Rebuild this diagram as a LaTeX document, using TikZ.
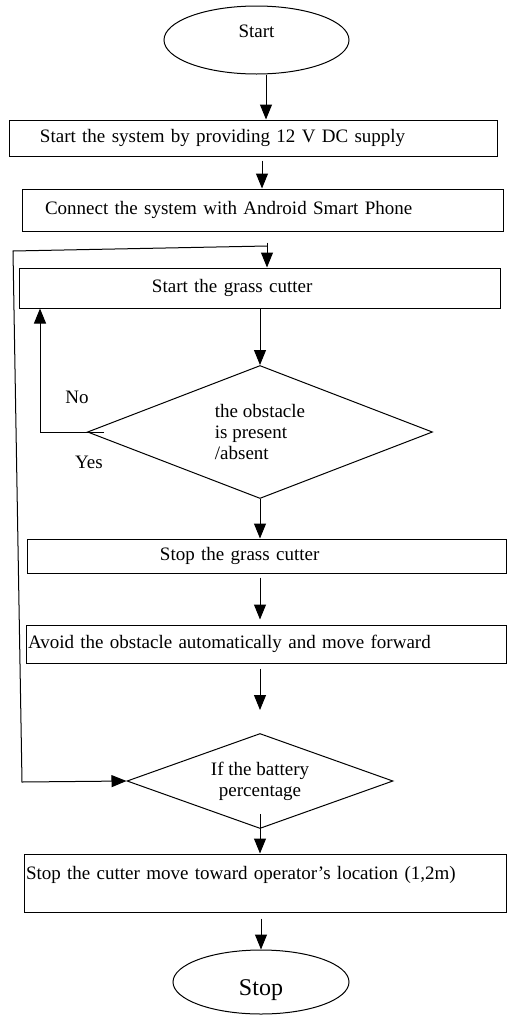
\documentclass[tikz,border=0pt]{standalone}
\usepackage{fontspec}
\setmainfont{Liberation Serif}
\usetikzlibrary{arrows.meta,shapes.geometric}
\usetikzlibrary{positioning}
\begin{document}
\begin{tikzpicture}[x=1pt,y=1pt,line width=1pt]
\tikzstyle{every node}+=[inner sep=0pt,font=\fontsize{19}{21}\selectfont]
\tikzstyle{box}=[draw,rectangle,align=left]
\tikzstyle{term}=[draw,ellipse]
\tikzstyle{decide}=[draw,diamond]
\tikzstyle{arr}=[-{Triangle[length=15pt,width=12pt]}]
\useasboundingbox (0,0) rectangle (507,-1015);
\node (start) at (256.5,-40) [term,minimum width=185pt,minimum height=68pt,text depth=18pt] {Start};
\node (supply) at (253,-138) [box,text width=488pt,minimum height=36pt] {\hspace*{31pt}Start the system by providing 12 V DC supply};
\node (connect) at (262.5,-210) [box,text width=481pt,minimum height=42pt] {\hspace*{23pt}Connect the system with Android Smart Phone};
\node (cutter) at (259.5,-288) [box,text width=481pt,minimum height=40pt] {\hspace*{133pt}Start the grass cutter};
\node (obstacle) at (260,-432) [decide,minimum width=345pt,minimum height=133pt,aspect=2.6,align=left] {the obstacle\\is present\\/absent};
\node (no) at (77,-397) {No};
\node (yes) at (89,-462) {Yes};
\node (halt) at (266.5,-556) [box,text width=479pt,minimum height=34pt] {\hspace*{133pt}Stop the grass cutter};
\node (avoid) at (266,-644) [box,text width=480pt,minimum height=38pt] {\hspace*{2pt}Avoid the obstacle automatically and move forward};
\node (battery) at (260,-781) [decide,minimum width=266pt,minimum height=95pt,aspect=2.8,align=center] {If the battery\\percentage};
\node (home) at (265,-883) [box,text width=482pt,minimum height=58pt] {\hspace*{2pt}Stop the cutter move toward operator’s location (1,2m)\\\mbox{}};
\node (stop) at (261,-982) [term,minimum width=176pt,minimum height=64pt,font=\fontsize{24}{26}\selectfont,text height=33pt] {Stop};
\coordinate (join) at (267,-246);
\coordinate (loopnw) at (13,-251);
\coordinate (loopsw) at (22,-782);
\coordinate (nocorner) at (40,-432);
\draw [arr] ([xshift=9.5pt]start.south) -- ([xshift=9.5pt]start.south |- supply.north);
\draw [arr,shorten <=4pt] ([xshift=9pt]supply.south) -- ([xshift=9pt]supply.south |- connect.north);
\draw [arr,shorten <=11pt] (connect.south -| join) -- (cutter.north -| join);
\draw [arr] (cutter.south -| obstacle.north) -- (obstacle.north);
\draw [arr,shorten <=-17pt] (obstacle.west) -- (nocorner) -- (nocorner |- cutter.south);
\draw [arr] (obstacle.south) -- (obstacle.south |- halt.north);
\draw [arr,shorten <=4pt,shorten >=5pt] (halt.south -| obstacle.south) -- (avoid.north -| obstacle.south);
\draw [arr,shorten <=5pt,shorten >=23pt] (avoid.south -| battery.north) -- (battery.north);
\draw [arr,shorten <=-15pt] (battery.south) -- (battery.south |- home.north);
\draw [arr,shorten <=6pt] (home.south -| stop.north) -- (stop.north);
\draw [arr] (join) -- (loopnw) -- (loopsw) -- (battery.west);
\end{tikzpicture}
\end{document}
